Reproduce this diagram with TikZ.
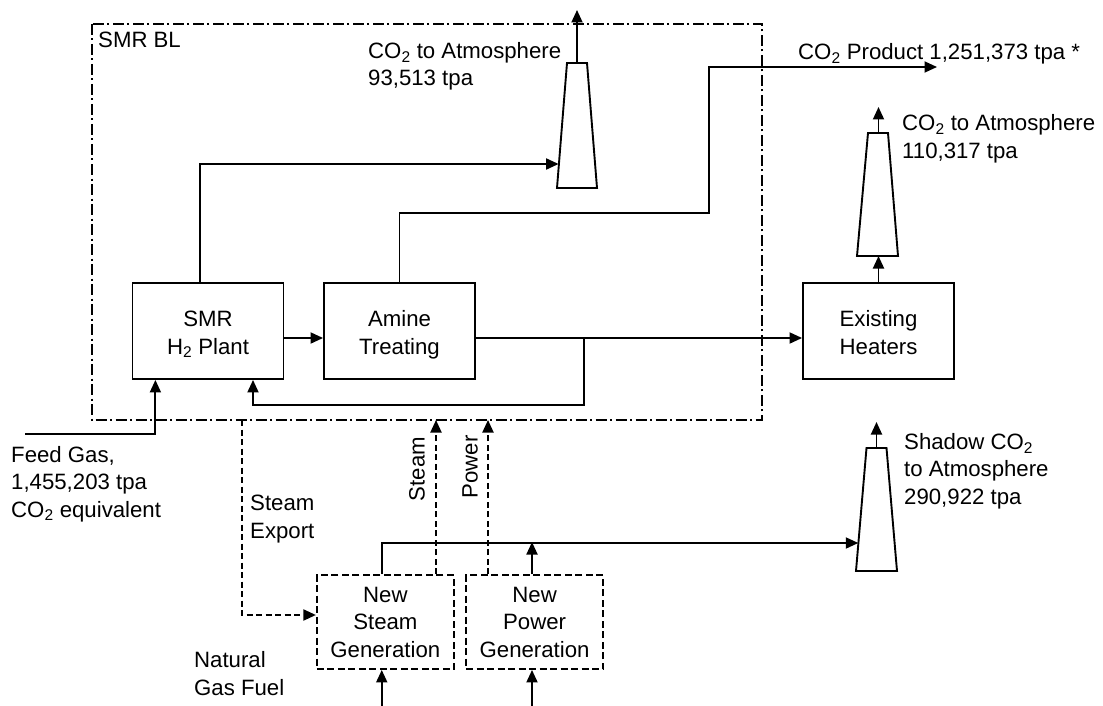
\documentclass[tikz,border=0pt]{standalone}
\usepackage{fontspec}
\setmainfont{Liberation Sans}
\usetikzlibrary{arrows.meta}
\newcommand\cotwo{CO\textsubscript{2}}
\begin{document}
\begin{tikzpicture}[x=1pt,y=-1pt,
  every node/.style={font=\fontsize{22.2}{27.3}\selectfont, inner sep=0pt},
  ln/.style={line width=1.9pt},
  arr/.style={ln,-{Triangle[length=12.5pt,width=11pt]}},
  darr/.style={arr, dash pattern=on 6pt off 3.5pt},
  procbox/.style={draw, line width=1.9pt, minimum width=151pt, minimum height=96pt, align=center, text height=46pt, text depth=0pt},
  newbox/.style={draw, line width=1.9pt, dash pattern=on 7pt off 3.5pt, minimum width=137pt, minimum height=94pt, align=center, text height=70pt, text depth=0pt},
  stack/.style={draw, line width=1.9pt, line join=miter},
  blstyle/.style={draw, line width=1.9pt, dash pattern=on 11pt off 3.5pt on 2pt off 3.5pt},
  lbl/.style={align=left, anchor=base west},
]
\useasboundingbox (0,0) rectangle (1103,706);

% battery limit
\draw[blstyle] (91.7,24) rectangle (761.6,420);
\node[lbl] (smrbl) at (98,48) {SMR BL};
\coordinate (expout) at (242,420);
\coordinate (stmin) at (436,420);
\coordinate (pwrin) at (488,420);

% process boxes
\node[procbox] (smr) at (208,331) {SMR\\H\textsubscript{2} Plant};
\node[procbox] (amine) at (399.5,331) {Amine\\Treating};
\node[procbox] (eh) at (878.5,331) {Existing\\Heaters};
\node[newbox] (nsg) at (385.35,622) {New\\Steam\\Generation};
\node[newbox] (npg) at (534.6,622) {New\\Power\\Generation};

% stacks
\coordinate (s1bl) at (557,188); \coordinate (s1br) at (597,188);
\coordinate (s1tr) at (587,63); \coordinate (s1tl) at (567,63);
\draw[stack] (s1bl) -- (s1br) -- (s1tr) -- (s1tl) -- cycle;
\coordinate (s1in) at (558.6,164); \coordinate (s1top) at (577,63); \coordinate (s1out) at (577,10);

\coordinate (s2bl) at (857,256); \coordinate (s2br) at (898,256);
\coordinate (s2tr) at (888,133); \coordinate (s2tl) at (868,133);
\draw[stack] (s2bl) -- (s2br) -- (s2tr) -- (s2tl) -- cycle;
\coordinate (s2bot) at (878.5,256); \coordinate (s2top) at (878.5,133); \coordinate (s2out) at (878.5,107);

\coordinate (s3bl) at (856,571); \coordinate (s3br) at (897,571);
\coordinate (s3tr) at (886.5,448); \coordinate (s3tl) at (866.5,448);
\draw[stack] (s3bl) -- (s3br) -- (s3tr) -- (s3tl) -- cycle;
\coordinate (s3in) at (858.3,543); \coordinate (s3top) at (876.5,448); \coordinate (s3out) at (876.5,422);

% labels (base = baseline of last line)
\node[lbl] (t1) at (368,86) {\cotwo{} to Atmosphere\\93,513 tpa};
\node[lbl] (t2) at (902,158) {\cotwo{} to Atmosphere\\110,317 tpa};
\node[lbl] (tprod) at (798,60) {\cotwo{} Product 1,251,373 tpa *};
\node[lbl] (t3) at (904,504) {Shadow \cotwo\\to Atmosphere\\290,922 tpa};
\node[lbl] (tfeed) at (11,517) {Feed Gas,\\1,455,203 tpa\\\cotwo{} equivalent};
\node[lbl] (texp) at (250,538) {Steam\\Export};
\node[lbl] (tfuel) at (194,695) {Natural\\Gas Fuel};
\node[rotate=90] (tstm) at (417,469) {Steam};
\node[rotate=90] (tpwr) at (470,467) {Power};

% connectors
\coordinate (prodturn) at (709,213);
\coordinate (prodend) at (937,67);
\coordinate (jn) at (584,338);
\coordinate (rec) at (584,405);
\coordinate (feed) at (25,434);
\coordinate (fuel1) at (381.75,706);
\coordinate (fuel2) at (532,706);

\draw[arr] ([xshift=-7.6pt]smr.north) |- (s1in);
\draw[arr] (s1top) -- (s1out);
\draw[arr] (amine.north) |- (prodturn) |- (prodend);
\draw[arr] ([yshift=-7pt]smr.east) -- ([yshift=-7pt]amine.west);
\draw[arr] ([yshift=-7pt]amine.east) -- ([yshift=-7pt]eh.west);
\draw[arr] (jn) -- (rec) -| ([xshift=45pt]smr.south);
\draw[arr] (feed) -| ([xshift=-52.6pt]smr.south);
\draw[arr] (eh.north) -- (s2bot);
\draw[arr] (s2top) -- (s2out);
\draw[arr] (s3top) -- (s3out);

\draw[darr] (expout) |- (nsg.west |- 0,615);
\draw[darr] (nsg.north -| stmin) -- (stmin);
\draw[darr] (npg.north -| pwrin) -- (pwrin);

\draw[arr] ([xshift=-3.6pt]nsg.north) |- (s3in);
\draw[arr] ([xshift=-2.6pt]npg.north) -- ++(0,-32);
\draw[arr] (fuel1) -- ([xshift=-3.6pt]nsg.south);
\draw[arr] (fuel2) -- ([xshift=-2.6pt]npg.south);
\end{tikzpicture}
\end{document}
